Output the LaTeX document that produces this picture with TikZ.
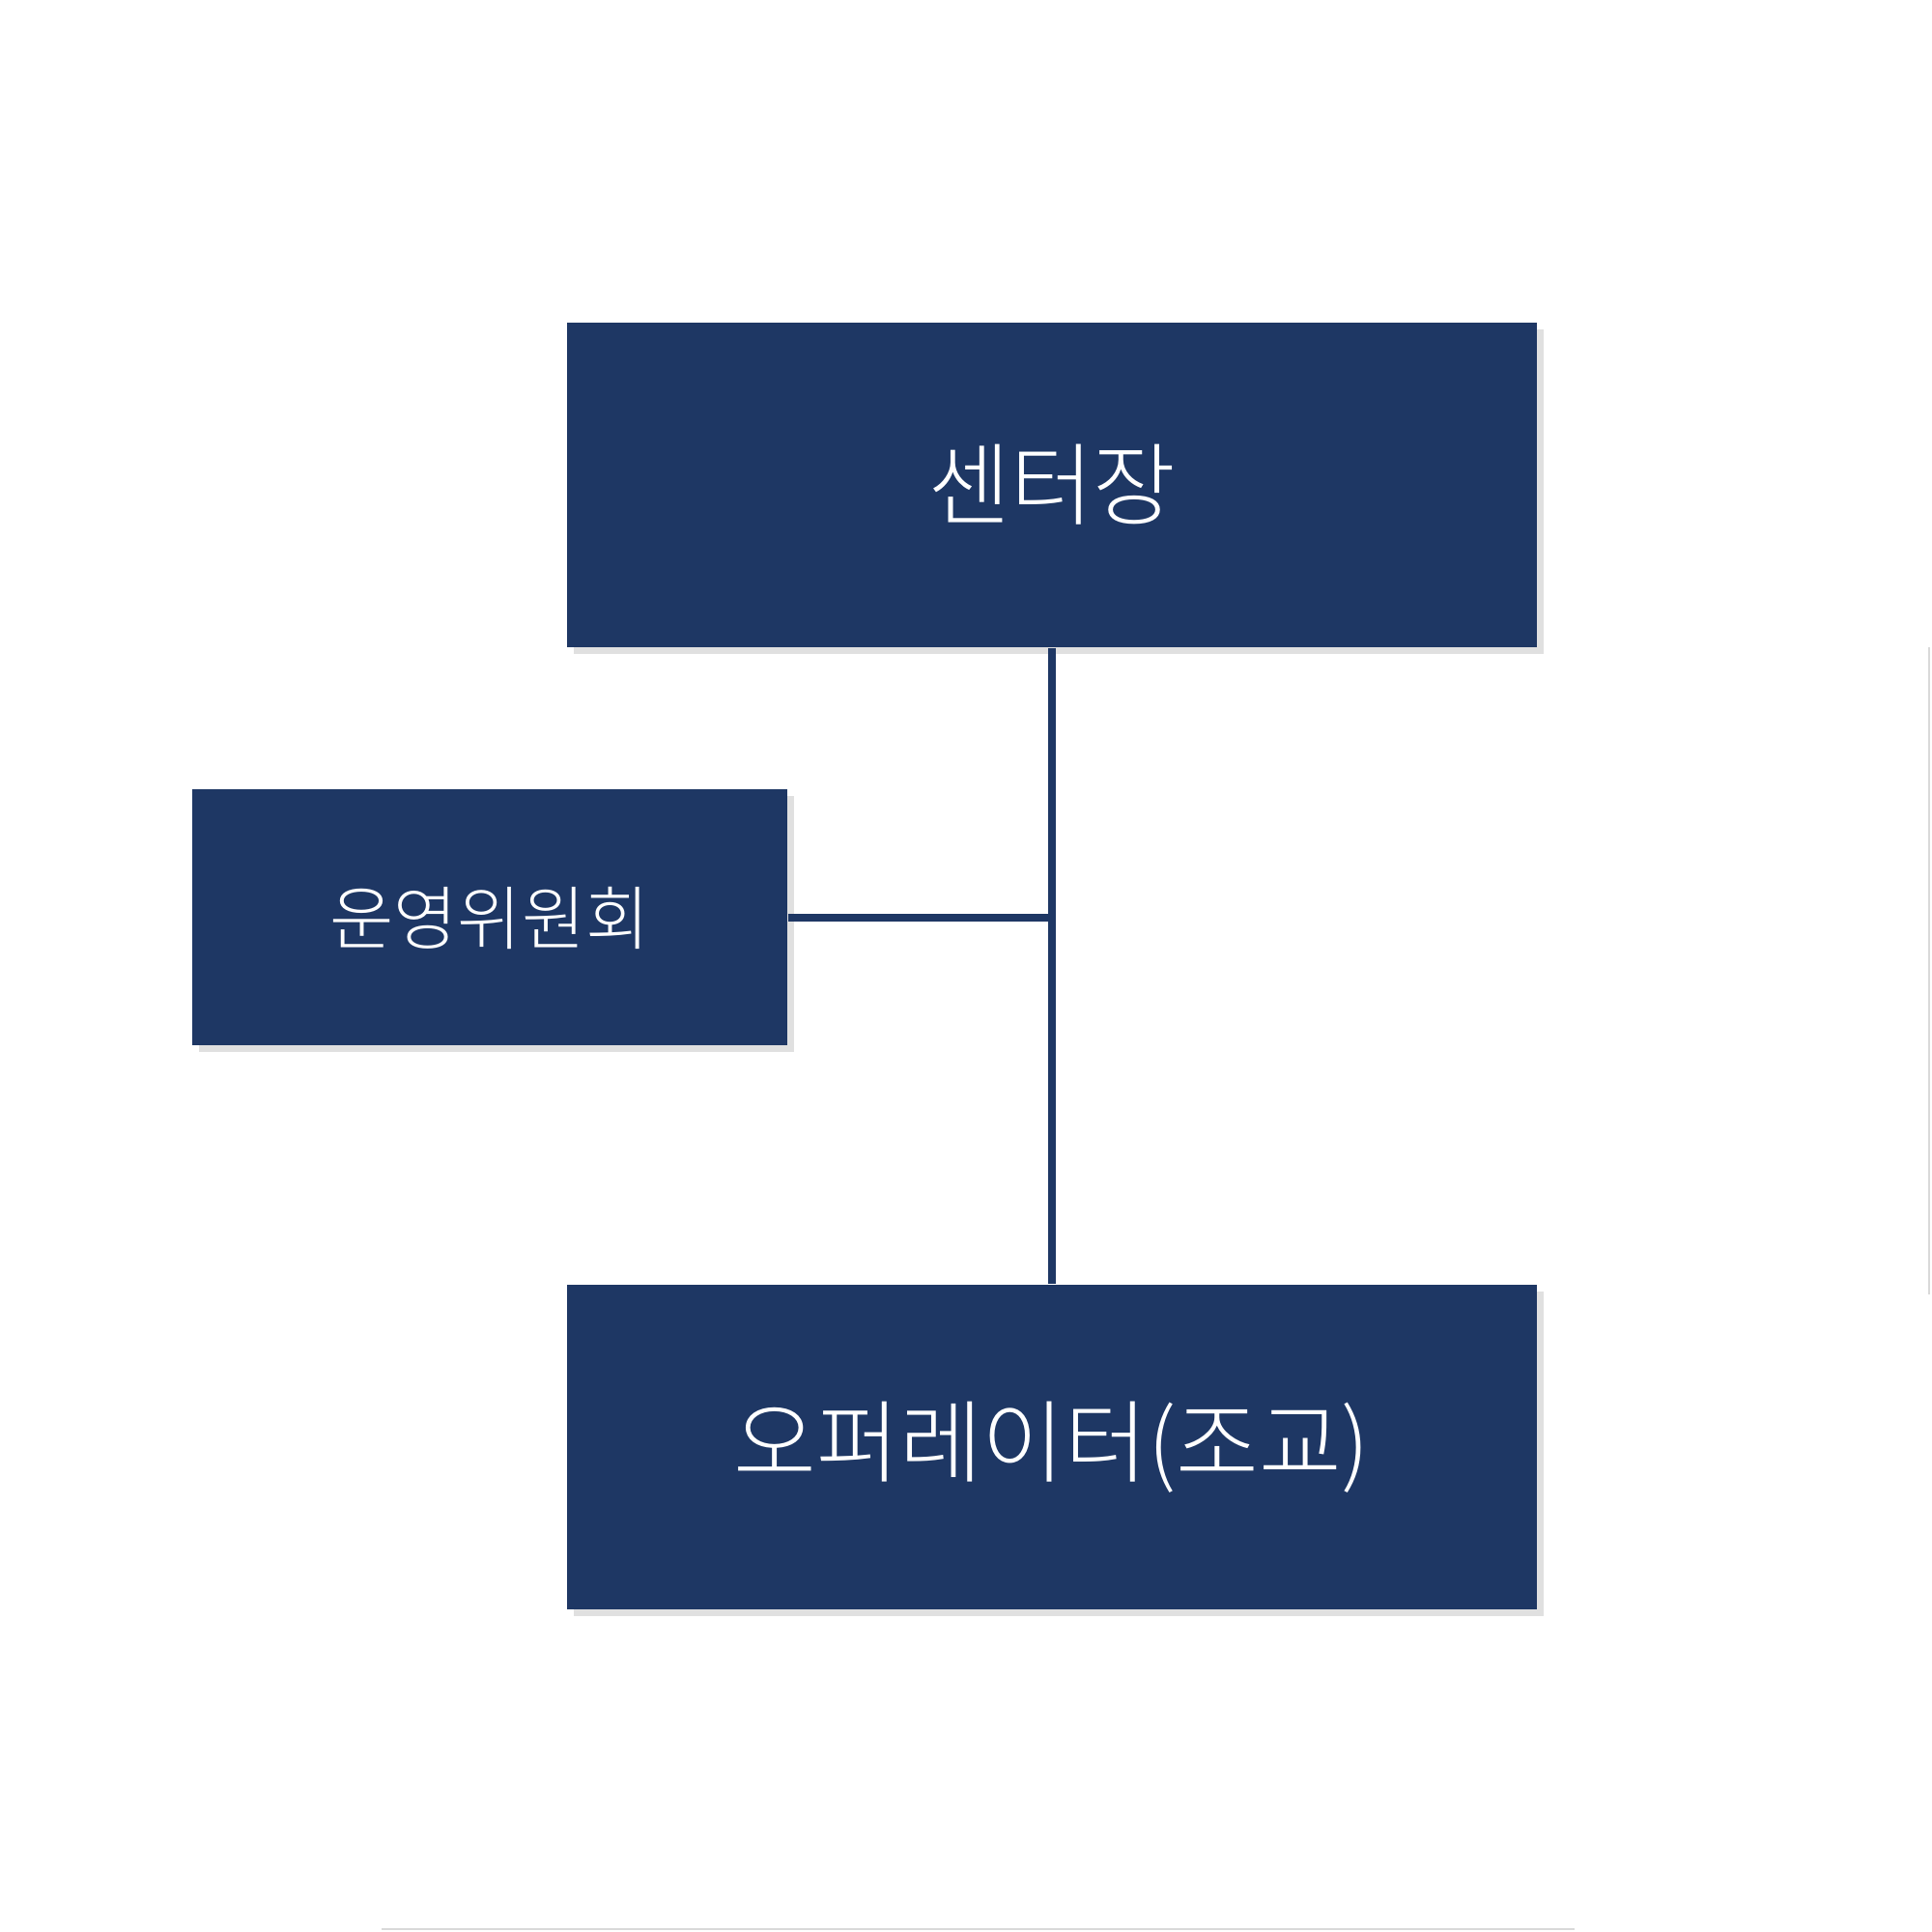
\documentclass[tikz,border=0pt]{standalone}
\usepackage{fontspec}
\newfontfamily\krfont{Noto Sans CJK KR Light}
\usetikzlibrary{shadows}
\definecolor{navy}{HTML}{1E3764}
\tikzset{
	orgbox/.style={fill=navy, text=white, minimum width=10.04cm, minimum height=3.36cm, inner sep=0pt, font=\krfont\fontsize{26.5}{30}\selectfont, drop shadow={shadow xshift=0.07cm, shadow yshift=-0.07cm, fill=black, opacity=0.12}},
	link/.style={navy, line width=2.2pt}
}
\begin{document}
\begin{tikzpicture}
	\fill[white] (0, 0) rectangle (20, 20);
	\useasboundingbox (0, 0) rectangle (20, 20);
	\node[orgbox] (head) at (10.89, 14.98) {센터장};
	\node[orgbox, minimum width=6.16cm, minimum height=2.65cm, font=\krfont\fontsize{20.5}{24}\selectfont] (board) at (5.07, 10.50) {운영위원회};
	\node[orgbox] (operator) at (10.89, 5.02) {오퍼레이터(조교)};
	\coordinate (junction) at (head.south |- board.east);
	\draw[link] (head.south) -- (operator.north);
	\draw[link] (board.east) -- (junction);
	% faint edges at the border
	\draw[black!15, line width=0.6pt] (19.97, 13.3) -- (19.97, 6.6);
	\draw[black!15, line width=0.6pt] (3.95, 0.03) -- (16.3, 0.03);
\end{tikzpicture}
\end{document}
